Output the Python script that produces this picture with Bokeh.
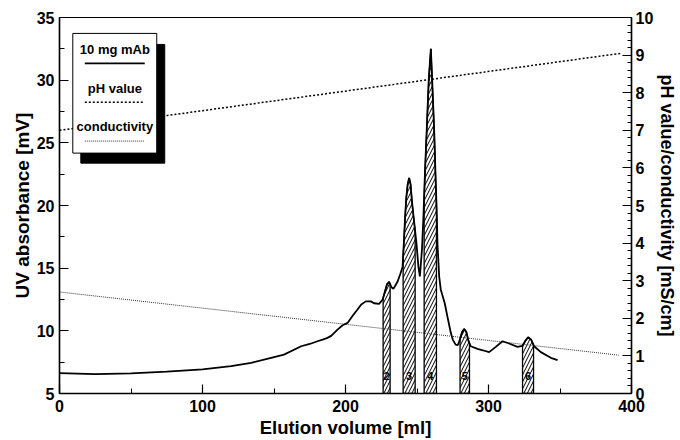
import numpy as np
from bokeh.plotting import figure
from bokeh.models import Range1d, LinearAxis, SingleIntervalTicker
from bokeh.core.properties import value
from bokeh.embed import file_html
from bokeh.resources import INLINE

# ---------------- data ----------------
uv_x = [0, 25, 50, 75, 100, 120, 134, 148, 157, 169, 175, 180.4, 184, 187.4, 190, 194.4,
        198, 201.4, 205, 208.4, 211, 214.2, 217.7, 220, 223.5, 226, 227.5, 229, 230.5,
        232, 233.5, 236.3, 238.5, 239.9, 240.8, 241.7, 242.5, 243.5, 244.5, 245.5,
        246.5, 247.5, 249.6, 251, 252, 253.5, 254.5, 255.7, 256.8, 258.2, 259.7, 260.6,
        262, 263.2, 263.9, 264.3, 265.5, 266.6, 269.4, 271.7, 273.6, 275, 277, 278.5,
        280, 281.5, 283, 284.5, 286, 287.6, 292.3, 296, 300.4, 305.1, 309.8, 314.4,
        320.3, 323.7, 325.7, 327.7, 329.8, 331.9, 336.6, 343.6, 348.3]
uv_y = [6.62, 6.55, 6.6, 6.74, 6.92, 7.18, 7.45, 7.85, 8.1, 8.77, 8.95, 9.17, 9.3, 9.44, 9.6, 10.1,
        10.45, 10.63, 11.2, 11.7, 12.1, 12.35, 12.35, 12.2, 12.15, 12.5, 13.1, 13.7, 13.9,
        13.5, 13.35, 13.9, 14.6, 15.1, 17.0, 19.1, 20.6, 21.7, 22.2, 21.7,
        20.3, 19.2, 17.0, 15.1, 14.35, 16.5, 19.1, 23.0, 26.0, 30.0, 32.5, 30.0,
        26.0, 21.5, 19.1, 17.0, 14.35, 13.3, 12.2, 10.9, 9.86, 9.3, 8.9, 8.85,
        9.3, 9.9, 10.15, 9.9, 9.2, 8.77, 8.56, 8.45, 8.3, 8.72, 9.17, 8.99,
        8.72, 8.8, 9.2, 9.49, 9.3, 8.77, 8.3, 7.85, 7.66]

ph_x = [0, 393]
ph_y = [7.0, 9.05]

cond_x = [0, 391]
cond_y = [2.7, 1.02]

frac_labels = ["2", "3", "4", "5", "6"]
frac_start = [226.3, 240.3, 255.0, 280.1, 323.8]
frac_end = [231.2, 248.7, 263.6, 286.7, 331.5]

x_axis_label = "Elution volume [ml]"
y_left_label = "UV absorbance [mV]"
y_right_label = "pH value/conductivity [mS/cm]"
legend_names = ["10 mg mAb", "pH value", "conductivity"]

FONT = value("Liberation Sans")
Y0 = 5

# ---------------- figure ----------------
p = figure(width=680, height=440, output_backend="svg", toolbar_location=None,
           x_range=Range1d(0, 400), y_range=Range1d(5, 35),
           min_border_left=59, min_border_right=49, min_border_top=17, min_border_bottom=46)
p.extra_y_ranges = {"right": Range1d(0, 10)}
p.xgrid.visible = False
p.ygrid.visible = False
p.outline_line_color = "black"
p.outline_line_width = 1.2
p.background_fill_color = "white"
p.border_fill_color = "white"

right_axis = LinearAxis(y_range_name="right")
p.add_layout(right_axis, "right")

p.xaxis.ticker = SingleIntervalTicker(interval=100, num_minor_ticks=2)
p.yaxis[0].ticker = SingleIntervalTicker(interval=5, num_minor_ticks=2)
right_axis.ticker = SingleIntervalTicker(interval=1, num_minor_ticks=5)

for ax in [p.xaxis[0], p.yaxis[0], right_axis]:
    ax.axis_line_color = "black"
    ax.axis_line_width = 1.5
    ax.major_tick_in = 9
    ax.major_tick_out = 0
    ax.minor_tick_in = 5
    ax.minor_tick_out = 0
    ax.major_tick_line_color = "black"
    ax.minor_tick_line_color = "black"
    ax.major_tick_line_width = 1.2
    ax.major_label_text_font = "Liberation Sans"
    ax.major_label_text_font_style = "bold"
    ax.major_label_text_font_size = "16px"
    ax.major_label_text_color = "black"
    ax.axis_label_text_font = "Liberation Sans"
    ax.axis_label_text_font_style = "bold"
    ax.axis_label_text_color = "black"
    ax.major_label_standoff = 5

right_axis.minor_tick_in = 4
p.xaxis[0].axis_label = x_axis_label
p.xaxis[0].axis_label_text_font_size = "18.5px"
p.xaxis[0].axis_label_standoff = 2
p.xaxis[0].major_label_standoff = 6
p.yaxis[0].axis_label = y_left_label
p.yaxis[0].axis_label_text_font_size = "19px"
p.yaxis[0].axis_label_standoff = 1
p.yaxis[0].major_label_standoff = 5
right_axis.axis_label = y_right_label
right_axis.axis_label_text_font_size = "18px"
right_axis.axis_label_standoff = 1
right_axis.major_label_standoff = 4

# ---------------- fractions (hatched) ----------------
ux = np.array(uv_x)
uy = np.array(uv_y)
pxs, pys, cx = [], [], []
for a, b in zip(frac_start, frac_end):
    inner = (ux > a) & (ux < b)
    xs = [a, a] + list(ux[inner]) + [b, b]
    ys = [Y0, float(np.interp(a, ux, uy))] + list(uy[inner]) + [float(np.interp(b, ux, uy)), Y0]
    pxs.append(xs)
    pys.append(ys)
    cx.append((a + b) / 2)

p.patches(pxs, pys, fill_color="white", line_color="black", line_width=1.3,
          hatch_pattern="/", hatch_color="black", hatch_weight=1, hatch_scale=7)
p.text(cx, [6.4] * len(cx), text=frac_labels, text_font=FONT, text_font_style="bold",
       text_font_size="11px", text_align="center", text_baseline="middle",
       text_color="black")

# ---------------- lines ----------------
p.line(ph_x, ph_y, y_range_name="right", line_color="black", line_width=1.5, line_dash="2 2")
p.line(cond_x, cond_y, y_range_name="right", line_color="#333333", line_width=1, line_dash="1 1")
p.line(uv_x, uv_y, line_color="black", line_width=1.8)

# ---------------- legend box with shadow ----------------
p.quad(left=[14.9], right=[73.6], bottom=[23.38], top=[32.85], fill_color="black", line_color="black")
p.quad(left=[9.3], right=[68.0], bottom=[24.18], top=[33.73], fill_color="white",
       line_color="black", line_width=1)
lx = 38.7
p.text([lx, lx, lx], [32.45, 29.35, 26.33], text=legend_names, text_font=FONT,
       text_font_style="bold", text_font_size="13px", text_align="center",
       text_baseline="middle", text_color="black")
p.line([17.7, 59.6], [31.34, 31.34], line_color="black", line_width=1.8)
p.line([17.7, 59.6], [28.24, 28.24], line_color="black", line_width=1.5, line_dash="2 2")
p.line([17.7, 59.6], [25.14, 25.14], line_color="#333333", line_width=1, line_dash="1 1")

open("out.html", "w").write(file_html(p, INLINE))
